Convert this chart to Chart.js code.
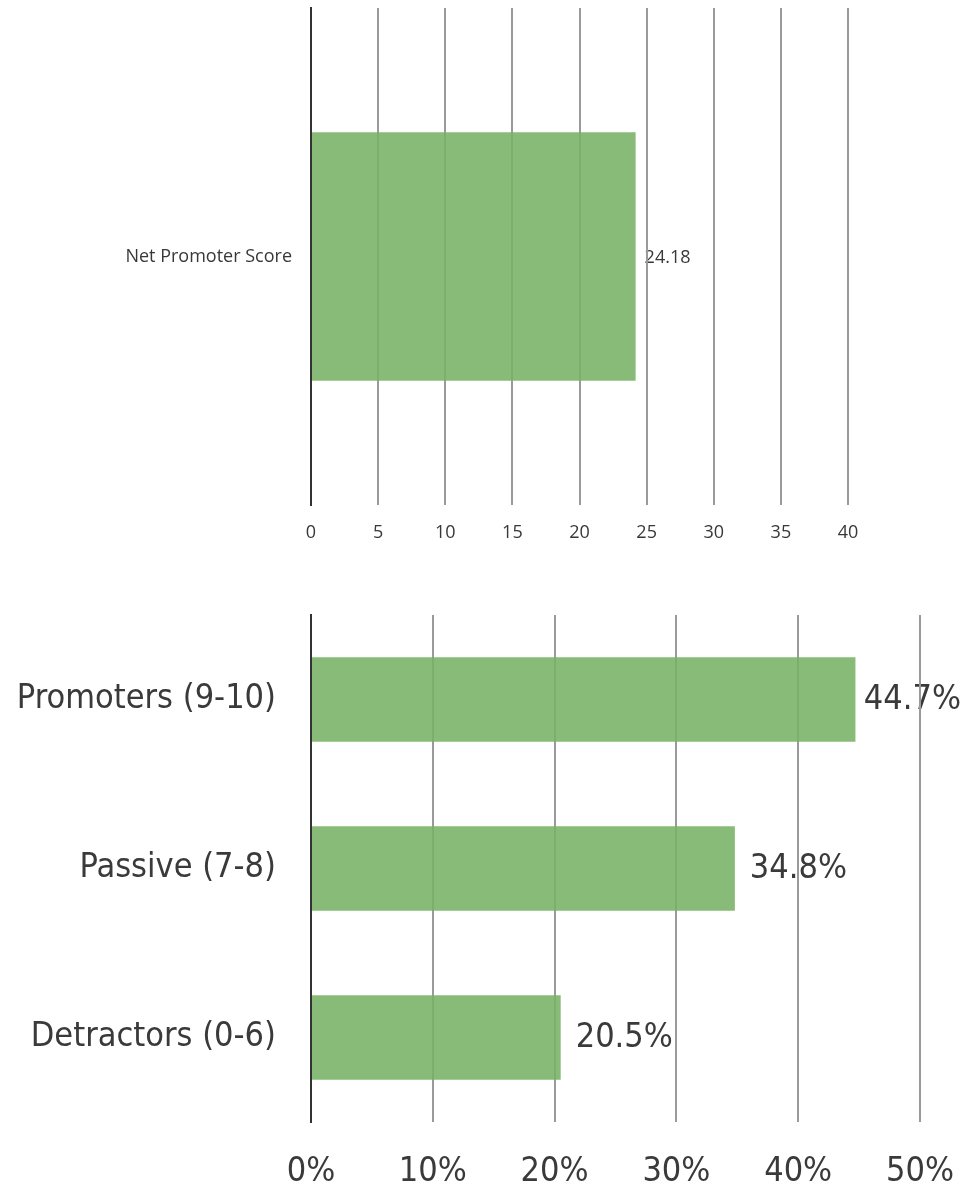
<!DOCTYPE html>
<html>
<head>
<meta charset="utf-8">
<script src="https://cdn.jsdelivr.net/npm/chart.js@4/dist/chart.umd.min.js"></script>
<style>
html,body{margin:0;padding:0;background:#fff;}
#c1{position:absolute;left:0;top:0;}
#c2{position:absolute;left:0;top:580px;}
</style>
</head>
<body>
<canvas id="c1" width="964" height="560"></canvas>
<canvas id="c2" width="964" height="606"></canvas>
<script>
const npsCategories = ["Net Promoter Score"];
const npsValues = [24.18];
const npsTicks = [0, 5, 10, 15, 20, 25, 30, 35, 40];

const groupCategories = ["Promoters (9-10)", "Passive (7-8)", "Detractors (0-6)"];
const groupValues = [44.7, 34.8, 20.5];
const groupTicks = [0, 10, 20, 30, 40, 50];

const barColor = 'rgba(120,178,100,0.88)';
const gridColor = '#9a9a9a';
const axisColor = '#333333';

function labelPlugin(font, color, offset, fmt) {
  return {
    id: 'valueLabels',
    beforeDraw(chart) {
      const ctx = chart.ctx;
      const meta = chart.getDatasetMeta(0);
      ctx.save();
      ctx.font = font;
      ctx.fillStyle = color;
      ctx.textAlign = 'left';
      ctx.textBaseline = 'middle';
      meta.data.forEach((bar, i) => {
        const v = chart.data.datasets[0].data[i];
        const txt = fmt(v);
        const w = ctx.measureText(txt).width;
        const x = Math.min(bar.x + offset, chart.width - w - 3);
        ctx.fillText(txt, x, bar.y + 1);
      });
      ctx.restore();
    }
  };
}

function makeChart(id, cats, vals, ticks, max, opts) {
  return new Chart(document.getElementById(id), {
    type: 'bar',
    data: {
      labels: cats,
      datasets: [{
        data: vals,
        backgroundColor: barColor,
        borderWidth: 0,
        categoryPercentage: 1.0,
        barPercentage: 0.5
      }]
    },
    options: {
      indexAxis: 'y',
      responsive: false,
      animation: false,
      devicePixelRatio: 1,
      layout: { padding: opts.padding },
      plugins: { legend: { display: false }, tooltip: { enabled: false } },
      scales: {
        x: {
          min: 0, max: max,
          afterBuildTicks: (s) => { s.ticks = ticks.map(v => ({ value: v })); },
          afterFit: (s) => { s.height = opts.xHeight; s.paddingLeft = 0; s.paddingRight = 0; s.paddingTop = 0; s.paddingBottom = 0; },
          grid: { color: gridColor, lineWidth: 2, drawTicks: false },
          border: { display: false },
          ticks: {
            padding: opts.tickPad,
            color: opts.tickColor,
            font: opts.tickFont,
            callback: opts.tickFmt
          }
        },
        y: {
          afterFit: (s) => { s.width = opts.yWidth; s.paddingTop = 0; s.paddingBottom = 0; s.paddingLeft = 0; s.paddingRight = 0; },
          grid: { display: false, drawTicks: false },
          border: { display: true, color: axisColor, width: 2 },
          ticks: {
            padding: opts.yPad,
            color: opts.tickColor,
            font: opts.catFont
          }
        }
      }
    },
    plugins: [labelPlugin(opts.labelFont, opts.tickColor, opts.labelOffset, opts.labelFmt)]
  });
}

makeChart('c1', npsCategories, npsValues, npsTicks, 40, {
  padding: { top: 8, right: 116, left: 0, bottom: 0 },
  xHeight: 55,
  yWidth: 311,
  tickPad: 17,
  yPad: 19,
  tickColor: '#383838',
  tickFont: { family: 'Open Sans', size: 18 },
  catFont: { family: 'Open Sans', size: 18 },
  tickFmt: (v) => v,
  labelFont: '18px "Open Sans"',
  labelOffset: 9,
  labelFmt: (v) => v.toFixed(2)
});

makeChart('c2', groupCategories, groupValues, groupTicks, 50, {
  padding: { top: 35, right: 44, left: 0, bottom: 0 },
  xHeight: 64,
  yWidth: 311,
  tickPad: 30,
  yPad: 35,
  tickColor: '#3a3a3a',
  tickFont: { family: 'DejaVu Sans Condensed', size: 34 },
  catFont: { family: 'DejaVu Sans Condensed', size: 34 },
  tickFmt: (v) => v + '%',
  labelFont: '34px "DejaVu Sans Condensed"',
  labelOffset: 15,
  labelFmt: (v) => v.toFixed(1) + '%'
});
</script>
</body>
</html>
